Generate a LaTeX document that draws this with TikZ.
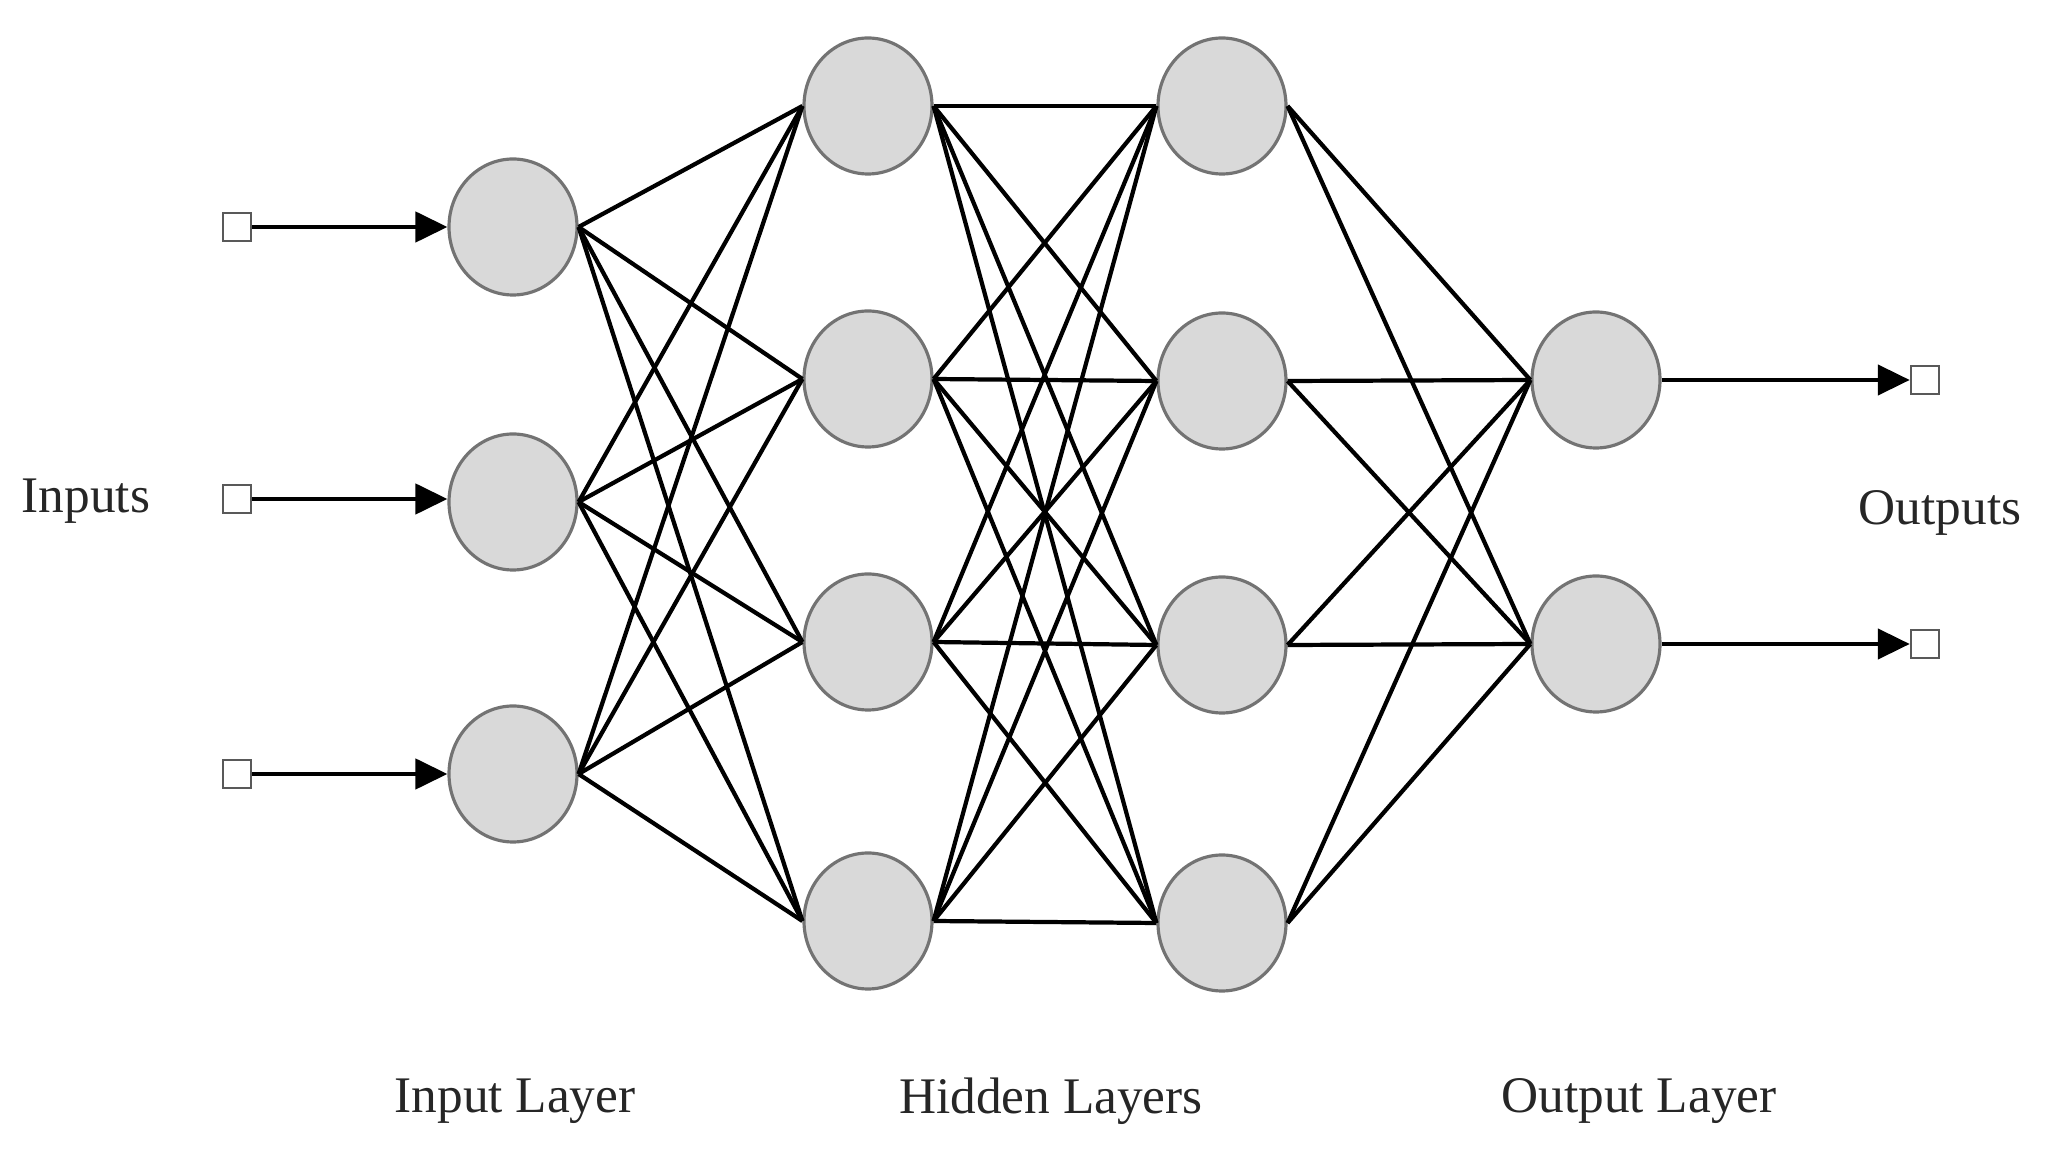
\documentclass[tikz,border=0pt]{standalone}
\usepackage{fontspec}
\setmainfont{Liberation Serif}
\usetikzlibrary{arrows.meta,positioning,calc,shapes.geometric}

\begin{document}
\begin{tikzpicture}[
neuron/.style={ellipse, draw=black!55, fill=black!15, line width=0.9pt, minimum width=1.28cm, minimum height=1.36cm, inner sep=0pt},
port/.style={rectangle, draw=black!65, fill=white, line width=0.7pt, minimum size=0.28cm, inner sep=0pt},
link/.style={black, line width=1.2pt},
feed/.style={black, line width=1.3pt, -{Triangle[length=3.2mm, width=3mm]}},
caption/.style={font=\fontsize{14.6}{17}\selectfont, text=black!85},
]
\useasboundingbox (0,0) rectangle (20.48,11.57);

% input layer
\node[neuron] (I1) at (5.13,9.30) {};
\node[neuron] (I2) at (5.13,6.55) {};
\node[neuron] (I3) at (5.13,3.83) {};

% hidden layers
\node[neuron] (H1) at (8.68,10.51) {};
\node[neuron] (H2) at (8.68,7.78) {};
\node[neuron] (H3) at (8.68,5.15) {};
\node[neuron] (H4) at (8.68,2.36) {};
\node[neuron] (K1) at (12.22,10.51) {};
\node[neuron] (K2) at (12.22,7.76) {};
\node[neuron] (K3) at (12.22,5.12) {};
\node[neuron] (K4) at (12.22,2.34) {};

% output layer
\node[neuron] (O1) at (15.96,7.77) {};
\node[neuron] (O2) at (15.96,5.13) {};

% ports
\node[port] (X1) at (2.37,9.30) {};
\node[port] (X2) at (2.37,6.58) {};
\node[port] (X3) at (2.37,3.83) {};
\node[port] (Y1) at (19.25,7.77) {};
\node[port] (Y2) at (19.25,5.13) {};

\foreach \a in {1,2,3}
  \foreach \b in {1,...,4}
    \draw[link] (I\a.east) -- (H\b.west);
\foreach \a in {1,...,4}
  \foreach \b in {1,...,4}
    \draw[link] (H\a.east) -- (K\b.west);
\foreach \a in {1,...,4}
  \foreach \b in {1,2}
    \draw[link] (K\a.east) -- (O\b.west);

\foreach \a in {1,2,3}
  \draw[feed] (X\a) -- (I\a.west |- X\a);
\foreach \a in {1,2}
  \draw[feed] (O\a) -- (Y\a);

\node[caption] (inputs) at (0.86,6.56) {Inputs};
\node[caption] (outputs) at (19.40,6.44) {Outputs};
\node[caption] (inlayer) at (5.15,0.56) {Input Layer};
\node[caption] (hidlayer) at (10.51,0.56) {Hidden Layers};
\node[caption] (outlayer) at (16.39,0.56) {Output Layer};
\end{tikzpicture}
\end{document}
